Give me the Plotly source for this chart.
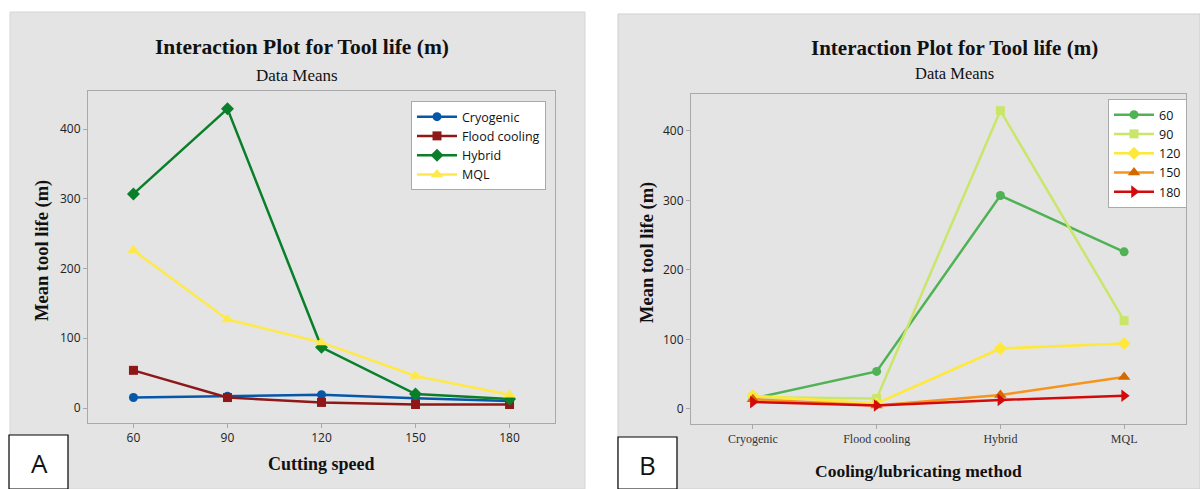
import plotly.graph_objects as go

# ---- data: mean tool life (m) for each cooling method and cutting speed ----
speeds = [60, 90, 120, 150, 180]
methods = ["Cryogenic", "Flood cooling", "Hybrid", "MQL"]

cryogenic = [15, 17, 19, 14, 10]
flood_cooling = [54, 15, 8, 5, 5]
hybrid = [307, 429, 87, 20, 13]
mql = [226, 127, 94, 46, 19]

by_method = {
    "Cryogenic": cryogenic,
    "Flood cooling": flood_cooling,
    "Hybrid": hybrid,
    "MQL": mql,
}

y_ticks = [0, 100, 200, 300, 400]

W, H = 1200, 489

def px(x):
    return x / W

def py(y):
    return (H - y) / H

fig = go.Figure()

# ---- panel A: tool life vs cutting speed, one line per method ----
method_style = {
    "Cryogenic": dict(color="#0657A8", symbol="circle", size=9),
    "Flood cooling": dict(color="#8E1818", symbol="square", size=9),
    "Hybrid": dict(color="#0A7F2A", symbol="diamond", size=10),
    "MQL": dict(color="#FFE94A", symbol="triangle-up", size=11),
}
for m in methods:
    st = method_style[m]
    fig.add_trace(go.Scatter(
        x=speeds, y=by_method[m], name=m, mode="lines+markers",
        line=dict(color=st["color"], width=2.5),
        marker=dict(color=st["color"], symbol=st["symbol"], size=st["size"]),
        xaxis="x", yaxis="y", legend="legend",
    ))

# ---- panel B: tool life vs method, one line per cutting speed ----
speed_style = {
    60: dict(line="#4FB254", marker="#4FB254", symbol="circle", size=9),
    90: dict(line="#C9E66B", marker="#C9E66B", symbol="square", size=9),
    120: dict(line="#FFE83C", marker="#FFE83C", symbol="diamond", size=10),
    150: dict(line="#F7941D", marker="#D26A00", symbol="triangle-up", size=11),
    180: dict(line="#D40A0A", marker="#D40A0A", symbol="triangle-right", size=11),
}
for i, s in enumerate(speeds):
    st = speed_style[s]
    vals = [by_method[m][i] for m in methods]
    fig.add_trace(go.Scatter(
        x=methods, y=vals, name=f"{s}", mode="lines+markers",
        line=dict(color=st["line"], width=2.5),
        marker=dict(color=st["marker"], symbol=st["symbol"], size=st["size"]),
        xaxis="x2", yaxis="y2", legend="legend2",
    ))

axis_common = dict(
    showline=True, mirror=True, linecolor="#A9A9A9", linewidth=1,
    showgrid=False, zeroline=False,
    ticks="outside", ticklen=4, tickcolor="#A9A9A9",
)
sans = "Open Sans, DejaVu Sans, sans-serif"
serif = "Liberation Serif, Times New Roman, serif"

# panel backgrounds and letter boxes
shapes = [
    dict(type="rect", xref="paper", yref="paper", layer="below",
         x0=px(10), x1=px(585), y0=py(489), y1=py(12),
         fillcolor="#E4E4E4", line=dict(color="#D6D6D6", width=1)),
    dict(type="rect", xref="paper", yref="paper", layer="below",
         x0=px(618), x1=px(1200), y0=py(489), y1=py(14),
         fillcolor="#E4E4E4", line=dict(color="#CFCFCF", width=1)),
    dict(type="rect", xref="paper", yref="paper",
         x0=px(9), x1=px(68), y0=py(489), y1=py(435),
         fillcolor="white", line=dict(color="black", width=1.2)),
    dict(type="rect", xref="paper", yref="paper",
         x0=px(618), x1=px(677), y0=py(489), y1=py(437),
         fillcolor="white", line=dict(color="black", width=1.2)),
]

def note(text, x, y, size, family, bold=False, angle=0, color="#111111"):
    t = f"<b>{text}</b>" if bold else text
    return dict(text=t, x=px(x), y=py(y), xref="paper", yref="paper",
                xanchor="center", yanchor="middle", showarrow=False,
                textangle=angle, font=dict(size=size, family=family, color=color))

annotations = [
    note("Interaction Plot for Tool life (m)", 302, 47, 21.5, serif, bold=True),
    note("Data Means", 297, 76, 17, serif),
    note("Mean tool life (m)", 42, 251, 18.5, serif, bold=True, angle=-90),
    note("Cutting speed", 321, 464, 18, serif, bold=True),
    note("Interaction Plot for Tool life (m)", 954, 48, 21, serif, bold=True),
    note("Data Means", 955, 73, 16.5, serif),
    note("Mean tool life (m)", 647, 253, 18.5, serif, bold=True, angle=-90),
    note("Cooling/lubricating method", 918, 471, 17.5, serif, bold=True),
    note("A", 39, 463, 26, "Open Sans, sans-serif"),
    note("B", 647, 465, 26, "Open Sans, sans-serif"),
]

fig.update_layout(
    width=W, height=H,
    margin=dict(l=0, r=0, t=0, b=0),
    paper_bgcolor="white", plot_bgcolor="white",
    showlegend=True,
    shapes=shapes, annotations=annotations,
    xaxis=dict(domain=[px(88), px(555)], range=[45.5, 194.5],
               tickvals=speeds, anchor="y",
               tickfont=dict(family=sans, size=12, color="#222222"), **axis_common),
    yaxis=dict(domain=[py(423), py(91)], range=[-21.5, 454.5],
               tickvals=y_ticks, anchor="x",
               tickfont=dict(family=sans, size=12, color="#222222"), **axis_common),
    xaxis2=dict(domain=[px(691), px(1186)], range=[-0.5, 3.5],
                type="category", categoryarray=methods, anchor="y2",
                tickfont=dict(family=serif, size=12, color="#333333"), **axis_common),
    yaxis2=dict(domain=[py(424), py(94)], range=[-21.6, 453],
                tickvals=y_ticks, anchor="x2",
                tickfont=dict(family=sans, size=12, color="#222222"), **axis_common),
    legend=dict(x=px(411), y=py(101), xanchor="left", yanchor="top",
                bgcolor="white", bordercolor="#A9A9A9", borderwidth=1,
                font=dict(family=sans, size=12.5, color="#111111"),
                itemwidth=40, tracegroupgap=0),
    legend2=dict(x=px(1108), y=py(99), xanchor="left", yanchor="top",
                 bgcolor="white", bordercolor="#A9A9A9", borderwidth=1,
                 font=dict(family=sans, size=12.5, color="#111111"),
                 itemwidth=40, tracegroupgap=0),
)

fig.write_html("out.html")
